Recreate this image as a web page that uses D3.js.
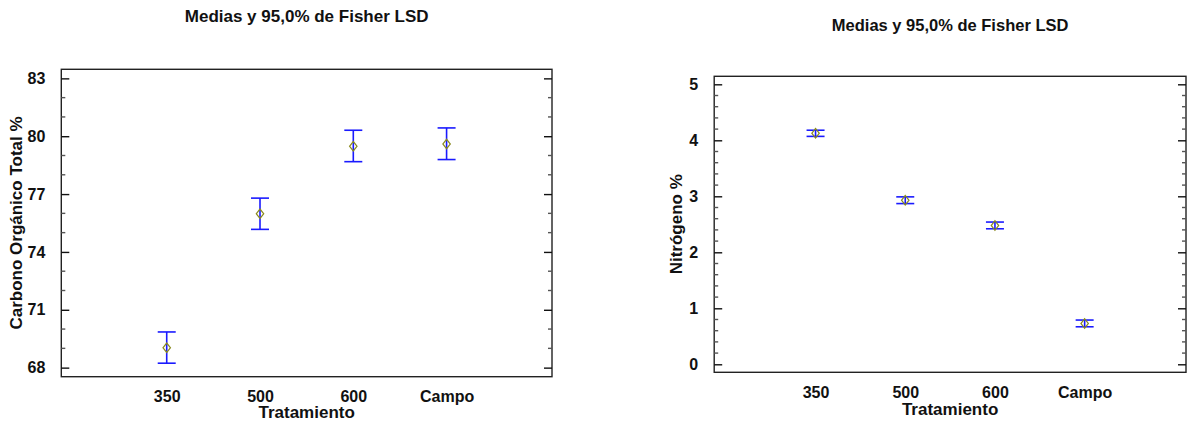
<!DOCTYPE html>
<html>
<head>
<meta charset="utf-8">
<script src="https://cdn.jsdelivr.net/npm/d3@7"></script>
<style>
  html, body { margin: 0; padding: 0; background: #fff; }
  svg { display: block; }
  text { font-family: "Liberation Sans", Arial, Helvetica, sans-serif; font-weight: bold; fill: #111; }
</style>
</head>
<body>
<svg id="chart" width="1187" height="423"></svg>
<script>
// ---- Data ----
const categories = ["350", "500", "600", "Campo"];

const carbonMeans = [69.03, 75.98, 79.48, 79.60];
const carbonLower = [68.23, 75.17, 78.68, 78.79];
const carbonUpper = [69.85, 76.79, 80.31, 80.43];
const carbonTicks = [68, 71, 74, 77, 80, 83];

const nitrogenMeans = [4.125, 2.93, 2.48, 0.73];
const nitrogenLower = [4.07, 2.87, 2.42, 0.67];
const nitrogenUpper = [4.18, 2.99, 2.54, 0.79];
const nitrogenTicks = [0, 1, 2, 3, 4, 5];

const titleText = "Medias y 95,0% de Fisher LSD";
const xTitle = "Tratamiento";

const svg = d3.select("#chart");

function drawPanel(cfg) {
  const g = svg.append("g");
  const x = d3.scalePoint().domain(categories).range([cfg.left, cfg.right]).padding(1.13);
  const y = d3.scaleLinear().domain(cfg.domain).range([cfg.bottom, cfg.top]);

  // frame
  g.append("rect")
    .attr("x", cfg.left).attr("y", cfg.top)
    .attr("width", cfg.right - cfg.left).attr("height", cfg.bottom - cfg.top)
    .attr("fill", "none").attr("stroke", "#222").attr("stroke-width", 1.4);

  // minor ticks (both sides, inward)
  const nMinor = Math.round((cfg.ticks[cfg.ticks.length - 1] - cfg.ticks[0]) / cfg.minorStep);
  const minor = d3.range(0, nMinor + 1).map(k => Math.round((cfg.ticks[0] + k * cfg.minorStep) * 1000) / 1000);
  const majorSet = new Set(cfg.ticks);
  minor.filter(v => !majorSet.has(v)).forEach(v => {
    [[cfg.left, cfg.left + 4], [cfg.right, cfg.right - 4]].forEach(([a, b]) => {
      g.append("line").attr("x1", a).attr("x2", b)
        .attr("y1", y(v)).attr("y2", y(v))
        .attr("stroke", "#555").attr("stroke-width", 1.4);
    });
  });

  // left axis with major ticks inward + labels
  const yAxisL = d3.axisLeft(y).tickValues(cfg.ticks).tickFormat(d3.format("d"))
    .tickSizeInner(-8).tickSizeOuter(0).tickPadding(16);
  const ga = g.append("g").attr("transform", `translate(${cfg.left},0)`).call(yAxisL);
  ga.select(".domain").remove();
  ga.selectAll(".tick line").attr("stroke", "#111").attr("stroke-width", 1.4);
  ga.selectAll(".tick text").attr("font-size", 16).attr("font-family", null).attr("fill", "#111");

  const yAxisR = d3.axisRight(y).tickValues(cfg.ticks).tickSizeInner(-8).tickSizeOuter(0).tickFormat("");
  const gr = g.append("g").attr("transform", `translate(${cfg.right},0)`).call(yAxisR);
  gr.select(".domain").remove();
  gr.selectAll(".tick line").attr("stroke", "#111").attr("stroke-width", 1.4);

  // x labels
  const xAxis = d3.axisBottom(x).tickSize(0).tickPadding(14);
  const gx = g.append("g").attr("transform", `translate(0,${cfg.bottom})`).call(xAxis);
  gx.select(".domain").remove();
  gx.selectAll(".tick text").attr("font-size", 16).attr("font-family", null).attr("fill", "#111");

  // titles
  const cx = (cfg.left + cfg.right) / 2;
  g.append("text").attr("x", cx).attr("y", cfg.titleY).attr("text-anchor", "middle")
    .attr("font-size", cfg.titleSize).text(titleText);
  g.append("text").attr("x", cx).attr("y", cfg.xTitleY).attr("text-anchor", "middle")
    .attr("font-size", 17).text(xTitle);
  g.append("text")
    .attr("transform", `translate(${cfg.yTitleX},${(cfg.top + cfg.bottom) / 2}) rotate(-90)`)
    .attr("text-anchor", "middle").attr("font-size", 17).text(cfg.yTitle);

  // error bars
  const rows = categories.map((c, i) => ({ c, m: cfg.means[i], lo: cfg.lower[i], hi: cfg.upper[i] }));
  const capW = 9;
  const eb = g.append("g").attr("stroke", "#1a1aff").attr("stroke-width", 1.6);
  rows.forEach(d => {
    const px = x(d.c);
    eb.append("line").attr("x1", px).attr("x2", px).attr("y1", y(d.lo)).attr("y2", y(d.hi));
    eb.append("line").attr("x1", px - capW).attr("x2", px + capW).attr("y1", y(d.hi)).attr("y2", y(d.hi));
    eb.append("line").attr("x1", px - capW).attr("x2", px + capW).attr("y1", y(d.lo)).attr("y2", y(d.lo));
  });

  // diamond markers
  const sym = d3.symbol().type(d3.symbolDiamond).size(26);
  g.selectAll(null).data(rows).join("path")
    .attr("d", sym)
    .attr("transform", d => `translate(${x(d.c)},${y(d.m)}) scale(1.35,1)`)
    .attr("fill", "none").attr("stroke", "#8a8a1e").attr("stroke-width", 1);
}

drawPanel({
  left: 61.3, right: 552, top: 69.3, bottom: 376.7,
  domain: [67.53, 83.47], ticks: carbonTicks, minorStep: 1,
  means: carbonMeans, lower: carbonLower, upper: carbonUpper,
  titleY: 22, titleSize: 17, xTitleY: 418, yTitleX: 22,
  yTitle: "Carbono Orgánico Total %"
});

drawPanel({
  left: 714.2, right: 1186, top: 76.3, bottom: 372.3,
  domain: [-0.143, 5.143], ticks: nitrogenTicks, minorStep: 0.2,
  means: nitrogenMeans, lower: nitrogenLower, upper: nitrogenUpper,
  titleY: 31, titleSize: 16.5, xTitleY: 415, yTitleX: 682,
  yTitle: "Nitrógeno %"
});
</script>
</body>
</html>
